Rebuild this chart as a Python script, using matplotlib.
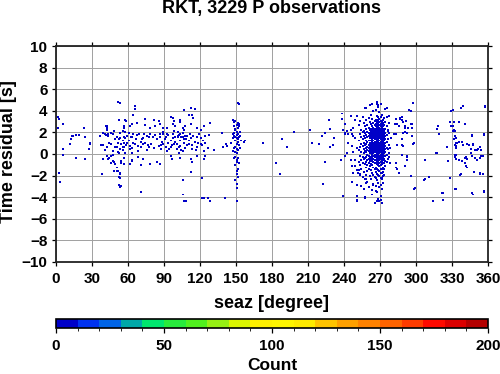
import numpy as np
import matplotlib
matplotlib.use("Agg")
import matplotlib.pyplot as plt
from matplotlib.colors import ListedColormap, BoundaryNorm
import matplotlib as mpl

plt.rcParams['font.family'] = ['Liberation Sans', 'DejaVu Sans']
plt.rcParams['font.weight'] = 'bold'

STATION = "RKT"
N_OBS = 3229
PHASE = "P"

# picks: (seaz [deg], time residual [s])
west_pts = [
    (1.9, 3.4), (2.2, 3.2), (1.1, 2.4), (5.3, 2.7), (5.0, 0.4), (5.3, -0.1), (2.5, -1.8), (3.3, -2.6),
    (13.0, 1.6), (12.5, 1.3), (14.4, 1.6), (16.7, 1.7), (19.4, 1.7), (23.3, 2.4), (24.2, 1.5),
    (16.7, -0.4), (24.4, -0.5), (27.0, 0.4), (28.3, 0.9), (11.7, 0.9), (28.0, 1.0),
    (37.2, 0.8), (38.6, -1.9), (41.7, 2.5), (42.8, 2.2), (41.4, 1.7), (43.6, 1.8), (44.4, 1.0),
    (51.1, 4.8), (47.8, 1.8), (49.2, 1.3), (47.8, -0.1), (47.2, -0.7), (49.2, -1.0), (48.3, -1.6),
    (50.0, -1.6), (53.3, -1.8), (53.9, -2.3), (52.8, -2.9), (53.9, -3.1), (52.0, 0.0), (52.8, 1.3),
    (53.3, 1.9), (55.6, 2.1), (56.7, 2.5), (57.5, 3.1), (55.6, 0.6), (56.7, -0.4), (54.7, -0.9),
    (61.6, -1.0), (63.0, -0.6), (63.9, 0.0), (36.7, 1.6), (39.4, 1.9), (40.0, 0.3), (42.2, -0.2),
    (43.6, -0.5), (45.0, -0.9), (45.8, -0.2), (50.6, 0.6), (51.1, 1.0), (38.0, -1.9),
    (53.8, 4.7), (65.2, 4.4), (65.8, 4.1), (64.4, 3.6), (42.0, 2.5), (42.6, 2.4), (52.6, 3.1),
    (58.2, 3.0), (56.8, 2.4), (40.6, 1.8), (43.4, 1.6), (45.4, 1.9), (48.2, 2.1), (50.4, 1.5),
    (52.6, 1.3), (53.8, 1.4), (56.0, 1.5), (57.4, 2.0), (39.2, 0.8), (42.0, 0.6), (45.4, 0.9),
    (47.6, 0.2), (49.8, 0.6), (51.8, 0.1), (53.2, 0.4), (56.0, 0.6), (59.4, 1.0), (39.8, -0.5),
    (44.8, -0.4), (48.2, -0.8), (50.4, -1.3), (51.8, -1.6), (53.2, -1.9), (54.6, -0.7), (56.0, -1.0),
    (52.6, -2.2), (54.0, -3.0), (55.0, 1.2), (56.0, 1.0), (57.0, 1.4), (54.0, 0.9), (55.0, 0.3),
    (57.0, 0.0), (58.0, 0.8), (59.0, 1.6),
]

mid_pts = [
    (74.2, 3.2), (81.2, 3.1), (85.7, 3.0), (97.4, 3.3), (98.6, 3.0), (106.4, 4.0), (112.0, 4.2),
    (115.4, 4.1), (110.6, 3.6), (113.4, 3.6), (95.2, 3.4), (103.6, 3.1), (114.8, 3.3), (128.0, 2.8),
    (61.6, 2.5), (63.0, 2.7), (67.2, 2.8), (74.2, 2.6), (78.4, 2.4), (82.6, 2.5), (86.8, 2.7),
    (89.0, 2.4), (92.4, 2.4), (97.4, 2.7), (99.4, 2.5), (103.6, 2.9), (105.0, 2.4), (107.8, 2.5),
    (112.0, 2.7), (117.0, 2.4), (120.4, 2.2), (123.2, 2.5),
    (60.2, 1.9), (63.0, 1.5), (64.4, 1.8), (67.2, 1.7), (69.4, 1.8), (71.4, 1.3), (73.4, 1.8),
    (75.6, 1.6), (77.0, 1.5), (78.4, 1.8), (80.6, 1.5), (82.6, 1.7), (84.0, 1.3), (86.8, 1.5),
    (89.6, 1.8), (91.0, 1.5), (93.8, 1.7), (95.2, 1.2), (97.4, 1.8), (99.4, 1.5), (101.4, 1.6),
    (103.6, 1.8), (105.0, 1.5), (106.4, 1.3), (109.2, 1.6), (111.4, 1.8), (114.8, 1.6), (117.0, 1.5),
    (120.4, 1.4), (124.6, 1.6), (138.6, 1.9), (141.4, 0.9), (142.8, 0.7), (157.4, 1.2),
    (61.6, 0.7), (63.8, 0.5), (65.8, 0.9), (68.6, 0.2), (70.6, 0.6), (72.8, 0.9), (75.6, 0.3),
    (77.8, 0.6), (79.8, 0.9), (81.8, 0.5), (85.4, 0.7), (87.4, 0.4), (89.6, 0.9), (92.4, 0.2),
    (95.2, 0.6), (98.0, 0.9), (100.2, 0.4), (102.2, 0.0), (103.6, 0.7), (105.0, 0.2), (107.8, 0.5),
    (110.6, 0.9), (113.4, 0.4), (117.6, 0.6), (120.4, 0.9), (123.2, 0.2), (131.6, 0.3), (139.4, 0.6),
    (145.6, 1.0), (61.6, -1.0), (63.8, -0.7), (68.6, -0.3), (70.0, -1.1), (72.8, -0.5), (78.4, -1.0),
    (84.0, -0.8), (86.8, -1.0), (95.2, -0.2), (96.6, -0.5), (103.0, -0.4), (112.0, -0.5),
    (113.4, -0.8), (117.6, -0.2), (123.2, -0.5), (124.6, -0.2), (70.8, -3.6), (105.6, -2.5),
    (105.6, -3.8), (106.4, -4.4), (108.4, -4.4), (112.0, -1.7), (121.0, -2.3), (121.0, -4.1),
    (123.2, -4.1), (126.0, -4.1), (128.0, -4.4), (140.8, -4.1),
    (101.0, 1.5), (102.0, 1.7), (103.0, 1.2), (104.0, 1.5), (105.0, 1.9), (106.0, 1.0), (107.0, 1.6),
    (100.0, 0.9), (102.0, 0.6), (104.0, 0.3), (106.0, 2.2), (108.0, 1.3), (109.0, 0.8), (101.0, 2.0),
    (99.0, 1.1), (97.0, 1.4), (96.0, 0.8), (98.0, 2.1), (60.0, 1.2), (61.0, 0.4), (62.0, 1.5),
    (64.0, 1.0), (66.0, 1.3), (68.0, 0.7), (70.0, 1.1), (72.0, 1.4), (74.0, 1.0), (76.0, 0.8),
    (88.0, 1.1), (90.0, 1.3), (91.0, 0.6), (92.0, 1.8), (93.0, 1.0), (94.0, 0.4), (89.0, 2.0),
    (87.0, 0.8), (86.0, 1.8), (110.0, 1.2), (112.0, 1.4), (113.0, 0.8), (115.0, 1.1), (116.0, 0.3),
    (118.0, 1.0), (119.0, 1.8), (121.0, 0.8), (122.0, 1.2), (124.0, 1.0), (126.0, 0.5), (127.0, 1.7),
]

strip150_pts = [
    (147.0, 3.1), (149.8, 3.0), (152.6, 4.6), (148.4, 2.5), (149.8, 2.2), (151.2, 2.4), (152.6, 2.7),
    (147.0, 1.8), (148.4, 1.6), (149.8, 1.5), (151.2, 1.3), (153.4, 1.6), (149.0, 0.1), (149.8, 0.6),
    (148.4, -0.4), (150.0, -0.8), (150.6, -1.6), (149.5, -2.5), (148.0, 2.9), (148.0, 1.9),
    (148.0, 0.5), (149.0, 2.3), (149.0, 1.2), (149.0, -0.3), (149.0, -1.1), (150.0, 2.6), (150.0, 2.0),
    (150.0, 1.7), (150.0, 1.4), (150.0, 0.9), (150.0, 0.4), (150.0, 0.0), (150.0, -0.6), (150.0, -1.9),
    (150.0, -2.8), (150.0, -3.2), (150.0, -4.4), (151.0, 2.8), (151.0, 1.8), (151.0, 1.1),
    (151.0, 0.3), (151.0, -0.4), (151.0, -1.4), (151.0, -2.2), (152.0, 2.5), (152.0, 1.5),
    (152.0, 0.8), (152.0, -0.9), (153.0, 2.0), (153.0, 0.5), (154.0, 1.2), (147.0, 1.4), (147.0, 0.2),
    (151.9, 4.7), (156.7, 1.1),
]

gap_pts = [
    (172.8, 1.0), (183.3, -0.9), (186.7, -1.9), (188.6, 1.3), (192.8, 0.6), (198.6, 2.0),
    (211.7, 2.2), (213.6, 1.0), (219.4, 0.9), (221.4, 1.6), (222.0, -2.8), (224.7, 1.9),
    (224.7, -0.8), (227.8, 3.1), (228.3, 0.6), (228.9, 2.3), (230.3, 0.8), (231.7, 1.4),
    (237.2, -0.6), (238.6, 3.7), (238.1, 3.2), (239.4, -3.9), (240.8, 2.7), (240.0, 1.9), (240.8, -0.2),
]

east_pts = [
    (297.0, 4.7), (267.3, 4.8), (268.6, 4.5), (263.1, 4.6), (257.5, 4.2), (258.9, 4.2), (274.2, 4.1),
    (275.6, 4.2), (294.2, 4.0), (286.1, 3.3), (288.9, 3.1), (245.0, 3.5), (250.6, 3.5), (249.2, 3.1),
    (238.9, 3.2), (239.5, 2.2), (242.8, 2.1), (247.8, 2.4), (240.9, 1.8), (246.4, 1.8), (249.2, 1.4),
    (243.6, 1.0), (242.8, 0.0), (247.8, 0.1), (245.0, -0.6), (246.4, -1.2), (249.2, -1.2),
    (250.6, -1.5), (247.8, -1.8), (246.4, -2.6), (250.0, -2.9), (239.5, -3.9), (250.6, -3.9),
    (250.0, -4.4), (257.5, -4.1), (267.3, -4.4), (269.5, -4.4), (271.4, -4.6), (265.9, -4.6),
    (263.1, -3.8), (266.7, -3.5), (272.8, -2.7), (271.4, -2.3), (258.9, -2.4), (258.4, -2.7),
    (264.5, -2.9), (253.4, -1.9), (278.3, -0.9), (283.4, -0.9), (283.9, -1.3), (285.3, -1.8),
    (299.2, -3.2), (295.0, -2.1), (290.9, -1.2), (288.1, -0.1), (292.3, -0.3), (288.1, 0.8),
    (289.5, 1.9), (290.9, 2.4), (293.6, 2.4), (295.0, 2.7), (296.4, 2.4), (298.4, 1.0), (281.1, 1.8),
    (279.8, 1.4), (282.5, 2.7), (285.3, 2.5), (277.8, 2.8), (276.1, 2.1), (278.3, 0.5), (277.0, 0.0),
    (243.6, 1.8), (245.6, 2.2), (247.8, 1.6), (246.4, 0.7), (250.6, 0.5), (249.2, -0.6), (251.9, -1.8),
    (250.6, -4.3), (257.5, -4.0), (267.2, -4.4), (268.6, -4.3), (270.8, -4.3), (261.7, 4.5),
    (267.2, 4.6), (270.0, 4.6), (275.0, 4.2), (275.6, 3.4), (277.8, 3.5), (283.9, 3.2), (284.7, 2.7),
    (286.7, 3.2), (288.0, 3.4), (289.4, 2.9), (290.0, 2.0), (290.8, 2.5), (291.7, 3.0), (292.2, 1.9),
    (288.9, 1.3), (289.4, 0.7), (283.9, 1.8), (284.4, 0.8), (283.9, -0.9), (284.4, -1.4),
    (292.2, -0.2), (292.2, -0.6), (296.4, 2.7), (296.4, 1.6), (297.8, 0.9), (295.0, 3.9),
    (298.6, -3.3), (307.0, -0.6), (307.5, -2.4), (310.6, -2.2), (314.5, -4.4), (317.2, 0.0),
]

far_east_pts = [
    (318.6, 2.5), (319.4, 1.8), (322.0, -3.7), (322.0, -4.3), (326.0, -0.7), (325.6, 0.6),
    (328.9, 2.9), (329.7, 3.9), (329.7, 2.5), (330.0, 2.5), (330.6, 2.1), (331.7, 1.3), (332.5, -0.1),
    (333.0, -3.3), (333.9, 0.7), (334.5, 1.0), (335.0, 2.9), (335.6, -0.6), (336.7, -2.0),
    (337.5, 4.2), (339.5, 4.4), (340.3, 2.7), (340.8, -0.4), (341.7, -1.2), (342.8, 0.9),
    (345.0, 0.4), (346.7, 1.7), (347.0, 0.9), (347.2, -3.8), (348.3, -1.7), (349.2, 0.3),
    (350.6, -0.6), (351.1, 0.4), (353.3, 0.6), (353.9, -1.9), (354.7, -0.2), (356.0, -3.6),
    (356.7, 1.8), (357.5, 4.4), (354.7, 0.3), (330.3, 4.0), (337.2, 4.2), (357.5, 4.3),
    (331.1, 2.9), (317.7, 2.3), (331.1, 2.2), (332.5, 2.1), (332.0, 1.6), (333.3, 1.4), (335.3, 1.1),
    (338.0, 1.1), (346.9, 1.6), (356.1, 1.7), (332.5, 0.8), (333.8, 0.5), (333.3, 1.0), (325.5, 0.6),
    (339.4, 0.8), (344.4, 0.8), (347.7, 0.8), (353.3, 0.6), (350.5, 0.3), (345.0, 0.0), (316.6, 0.0),
    (333.3, -0.1), (332.5, -0.3), (341.4, -0.3), (342.2, -0.5), (346.4, -0.2), (349.1, -0.4),
    (353.3, -0.4), (355.5, -0.2), (333.8, -0.5), (338.0, -0.7), (340.8, -0.9), (326.1, -0.7),
    (342.2, -1.3), (348.6, -1.7), (353.3, -1.8), (355.5, -1.9), (337.2, -1.9), (310.2, -2.2),
    (306.6, -2.5), (328.9, -2.3), (332.5, -3.3), (356.1, -3.5), (321.9, -3.7), (346.9, -3.7),
    (314.4, -4.4),
]

# dense cluster near 270 deg: residuals per seaz column
cluster_cols = {
    252: [2.6, 1.2, 0.3, -0.8, -1.5],
    253: [3.0, 1.8, 0.6, -0.2, -1.1, -2.0],
    254: [2.2, 1.5, 0.9, 0.1, -0.6, -1.4, -3.0],
    255: [3.4, 2.0, 1.3, 0.7, -0.3, -0.9, -2.2],
    256: [2.8, 2.1, 1.6, 1.0, 0.4, 0.0, -0.5, -1.7, -3.3],
    257: [2.5, 1.9, 1.4, 0.8, 0.2, -0.4, -1.0, -2.4],
    258: [3.1, 2.3, 1.7, 1.2, 0.9, 0.5, 0.1, -0.3, -0.8, -1.3, -2.0],
    259: [2.6, 2.0, 1.5, 1.1, 0.6, 0.3, -0.1, -0.6, -1.1, -1.6, -2.6],
    260: [3.3, 2.4, 1.9, 1.6, 1.2, 0.8, 0.5, 0.2, -0.2, -0.5, -0.9, -1.4, -3.1],
    261: [2.9, 2.2, 1.8, 1.4, 1.0, 0.7, 0.3, 0.0, -0.4, -0.7, -1.2, -2.1],
    262: [3.6, 2.7, 2.3, 2.0, 1.8, 1.6, 1.4, 1.2, 1.0, 0.8, 0.6, 0.4, 0.2, 0.0, -0.3, -0.6,
          -1.0, -1.5, -2.4],
    263: [3.2, 2.5, 2.1, 1.9, 1.7, 1.5, 1.3, 1.1, 0.9, 0.7, 0.5, 0.3, 0.1, -0.1, -0.4, -0.7,
          -1.1, -1.8, -3.4],
    264: [3.9, 2.8, 2.4, 2.2, 2.0, 1.8, 1.6, 1.4, 1.2, 1.0, 0.8, 0.6, 0.4, 0.2, 0.0, -0.2,
          -0.5, -0.8, -1.3, -2.0, -2.8],
    265: [3.0, 2.6, 2.3, 2.1, 1.9, 1.7, 1.5, 1.3, 1.1, 0.9, 0.7, 0.5, 0.3, 0.1, -0.1, -0.3,
          -0.6, -0.9, -1.4, -2.2],
    266: [4.0, 3.1, 2.7, 2.5, 2.3, 2.1, 1.9, 1.7, 1.5, 1.3, 1.1, 0.9, 0.7, 0.5, 0.3, 0.1, -0.1,
          -0.3, -0.6, -0.9, -1.3, -1.7, -2.3, -3.0],
    267: [3.5, 2.9, 2.6, 2.4, 2.2, 2.0, 1.8, 1.6, 1.4, 1.2, 1.0, 0.8, 0.6, 0.4, 0.2, 0.0, -0.2,
          -0.4, -0.7, -1.0, -1.4, -1.9, -2.5, -3.6],
    268: [4.3, 3.4, 3.1, 2.8, 2.5, 2.3, 2.1, 1.9, 1.7, 1.5, 1.3, 1.1, 0.9, 0.7, 0.5, 0.3, 0.1,
          -0.1, -0.3, -0.5, -0.8, -1.1, -1.5, -2.0, -2.7, -4.2],
    269: [3.8, 3.2, 2.9, 2.6, 2.4, 2.2, 2.0, 1.8, 1.6, 1.4, 1.2, 1.0, 0.8, 0.6, 0.4, 0.2, 0.0,
          -0.2, -0.4, -0.6, -0.9, -1.2, -1.6, -2.1, -3.1],
    270: [3.4, 3.0, 2.7, 2.5, 2.3, 2.1, 1.9, 1.7, 1.5, 1.3, 1.1, 0.9, 0.7, 0.5, 0.3, 0.1, -0.1,
          -0.3, -0.5, -0.8, -1.1, -1.4, -1.8, -2.3, -2.9, -3.9],
    271: [3.6, 2.9, 2.6, 2.4, 2.2, 2.0, 1.8, 1.6, 1.4, 1.2, 1.0, 0.8, 0.6, 0.4, 0.2, 0.0, -0.2,
          -0.4, -0.7, -1.0, -1.4, -1.8, -2.4, -3.3],
    272: [3.1, 2.8, 2.5, 2.3, 2.1, 1.9, 1.7, 1.5, 1.3, 1.1, 0.9, 0.7, 0.5, 0.3, 0.1, -0.1, -0.3,
          -0.6, -0.9, -1.3, -1.7, -2.1],
    273: [3.3, 2.6, 2.2, 2.0, 1.8, 1.6, 1.4, 1.2, 1.0, 0.8, 0.6, 0.4, 0.2, 0.0, -0.2, -0.5,
          -0.9, -1.4, -2.0],
    274: [2.9, 2.3, 1.9, 1.6, 1.3, 1.0, 0.7, 0.4, 0.1, -0.2, -0.7, -1.2],
    275: [2.5, 1.7, 1.1, 0.5, -0.1, -0.8],
    276: [2.2, 1.3, 0.4, -0.5],
    277: [1.9, 0.8, -0.3],
}

# count colour scale (GMT-like, 20 steps of 10)
cbar_colors = ['#0000c8', '#0032f0', '#0064e6', '#00a8a8', '#00e66e', '#28eb3c', '#50f01e',
               '#96f014', '#dcf500', '#fff000', '#fff500', '#ffeb00', '#ffc300', '#ffa000',
               '#ff8200', '#ff6400', '#ff3c00', '#ff0a00', '#dc0000', '#b40000']
cbar_levels = np.arange(0, 201, 10)
cbar_ticks = [0, 50, 100, 150, 200]

pts = west_pts + mid_pts + strip150_pts + gap_pts + east_pts + far_east_pts
seaz = [p[0] for p in pts]
resid = [p[1] for p in pts]
for az, col in cluster_cols.items():
    seaz += [az + 0.5] * len(col)
    resid += col
seaz = np.array(seaz)
resid = np.array(resid)

# bin like the original density plot (1 deg x 0.1 s)
H, xe, ye = np.histogram2d(seaz, resid, bins=[np.arange(0, 361, 1.0), np.arange(-10, 10.05, 0.1)])
ix, iy = np.nonzero(H)
xc = 0.5 * (xe[ix] + xe[ix + 1])
yc = 0.5 * (ye[iy] + ye[iy + 1])
counts = H[ix, iy]

cmap = ListedColormap(cbar_colors)
norm = BoundaryNorm(cbar_levels, cmap.N)

fig = plt.figure(figsize=(5.0, 3.74), dpi=100)
ax = fig.add_axes([0.112, 0.2995, 0.864, 0.5775])
ax.scatter(xc, yc, c=counts, cmap=cmap, norm=norm, marker='s', s=2.0, linewidths=0, zorder=3)

ax.set_xlim(0, 360)
ax.set_ylim(-10, 10)
ax.set_xticks(np.arange(0, 361, 30))
ax.set_yticks(np.arange(-10, 11, 2))
ax.grid(True, color='#a0a0a0', linewidth=0.7, zorder=1)
ax.set_axisbelow(True)
for sp in ax.spines.values():
    sp.set_linewidth(1.3)
    sp.set_color('#222222')
ax.tick_params(direction='out', length=3, width=0.9, top=True, right=True,
               labelsize=11, pad=4.0)
ax.tick_params(axis='y', pad=3.2)

fig.text(0.544, 1 - 13.3 / 374, f"{STATION}, {N_OBS} {PHASE} observations",
         ha='center', va='baseline', fontsize=13, fontweight='bold')
fig.text(0.544, 1 - 307.5 / 374, "seaz [degree]", ha='center', va='baseline',
         fontsize=13, fontweight='bold')
fig.text(9 / 500, 1 - 152 / 374, "Time residual [s]", ha='center', va='center',
         rotation=90, fontsize=13, fontweight='bold')

cax = fig.add_axes([0.112, 1 - 328 / 374, 0.864, 9 / 374])
cb = mpl.colorbar.ColorbarBase(cax, cmap=cmap, norm=norm, orientation='horizontal',
                               ticks=cbar_ticks, spacing='proportional')
cb.outline.set_linewidth(1.2)
cax.tick_params(direction='out', length=3.6, width=0.9, labelsize=11, pad=4.0)
fig.text(0.544, 1 - 370.5 / 374, "Count", ha='center', va='baseline',
         fontsize=12.5, fontweight='bold')

fig.savefig("out.png", dpi=100)
